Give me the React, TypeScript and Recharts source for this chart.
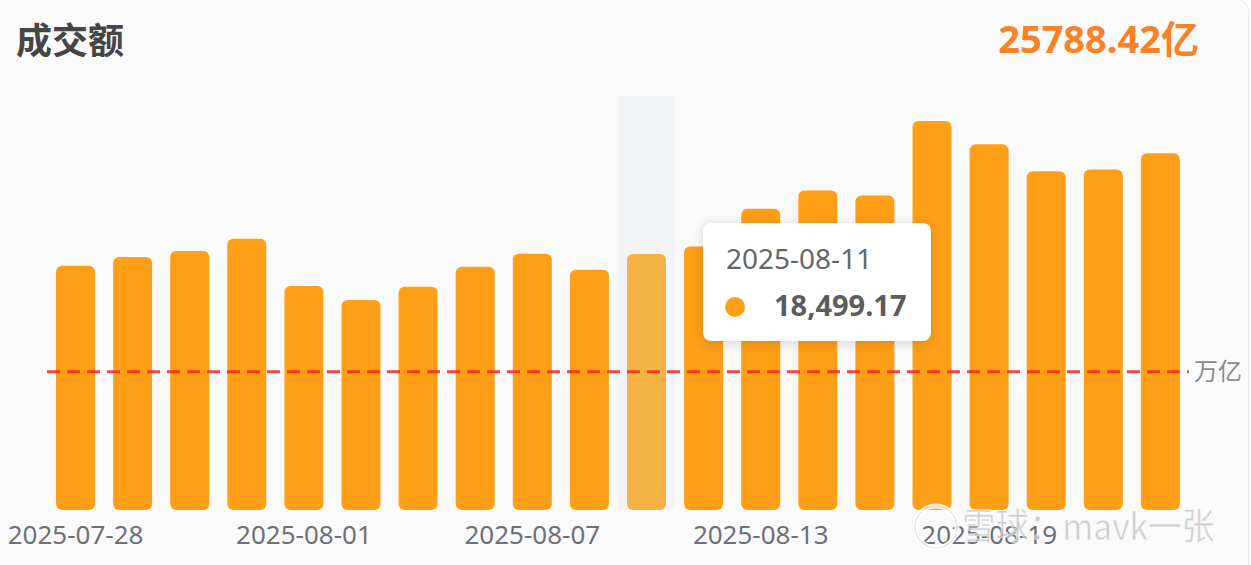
import React from 'react';
import { BarChart, Bar, XAxis, YAxis, Tooltip, ReferenceLine, Cell } from 'recharts';

const dates = [
  '2025-07-28', '2025-07-29', '2025-07-30', '2025-07-31', '2025-08-01',
  '2025-08-04', '2025-08-05', '2025-08-06', '2025-08-07', '2025-08-08',
  '2025-08-11', '2025-08-12', '2025-08-13', '2025-08-14', '2025-08-15',
  '2025-08-18', '2025-08-19', '2025-08-20', '2025-08-21', '2025-08-22',
];
const turnover = [
  17653, 18282, 18715, 19603, 16188,
  15177, 16137, 17581, 18520, 17365,
  18499.17, 19047, 21769, 23090, 22729,
  28123, 26440, 24491, 24606, 25788.42,
];
const yDomain = [0, 30000];
const refValue = 10000;
const refLabel = '万亿';
const title = '成交额';
const latestLabel = '25788.42亿';
const activeIndex = 10;
const watermark = '雪球：mavk一张';

const data = dates.map((d, i) => ({ date: d, value: turnover[i] }));

const BAR = '#fe9f17';
const BAR_ACTIVE = '#f4b144';

function fmt(v: number) {
  return v.toLocaleString('en-US', { minimumFractionDigits: 2, maximumFractionDigits: 2 });
}

function TipContent(props: any) {
  const { active, payload, label } = props;
  if (!active || !payload || !payload.length) return null;
  return (
    <div
      style={{
        position: 'relative',
        width: 228,
        height: 118,
        background: '#ffffff',
        borderRadius: 8,
        boxShadow: '0 2px 12px rgba(0,0,0,0.16)',
        fontFamily: "'Noto Sans', sans-serif",
      }}
    >
      <div style={{ position: 'absolute', left: 23, top: 16, fontSize: 28, lineHeight: 'normal', color: '#666666', whiteSpace: 'nowrap' }}>
        {label}
      </div>
      <div style={{ position: 'absolute', left: 22, top: 74, width: 20, height: 20, borderRadius: 10, background: BAR }} />
      <div style={{ position: 'absolute', left: 71, top: 62, fontSize: 29, fontWeight: 700, lineHeight: 'normal', color: '#5c5c5c', whiteSpace: 'nowrap' }}>
        {fmt(payload[0].value)}
      </div>
    </div>
  );
}

export default function App() {
  return (
    <div style={{ position: 'fixed', left: 0, top: 0, width: 1251, height: 565, background: '#ffffff', overflow: 'hidden' }}>
      <div
        style={{
          position: 'absolute',
          left: -12,
          top: -1,
          width: 1259,
          height: 580,
          background: '#fafafa',
          border: '1px solid #ececec',
          borderRadius: 12,
        }}
      />
      <svg width={1251} height={565} style={{ position: 'absolute', left: 0, top: 0 }}>
        <text x={16} y={54} fontSize={36} fontWeight={700} fill="#464646" fontFamily="'Noto Sans CJK SC', sans-serif">
          {title}
        </text>
        <text x={1199} y={53} textAnchor="end" fontSize={38} fontWeight={700} fill="#f98126" fontFamily="'Noto Sans', 'Noto Sans CJK SC', sans-serif">
          {latestLabel}
        </text>
      </svg>
      <div style={{ position: 'absolute', left: 0, top: 0 }}>
        <BarChart
          width={1248}
          height={565}
          data={data}
          margin={{ top: 95, right: 59, bottom: 15, left: 47 }}
          barSize={39}
        >
          <XAxis
            dataKey="date"
            interval={3}
            axisLine={false}
            tickLine={false}
            height={40}
            tickMargin={10}
            tick={{ fill: '#6e7079', fontSize: 26, fontFamily: "'Noto Sans', sans-serif" }}
          />
          <YAxis hide type="number" domain={yDomain} />
          <Tooltip
            defaultIndex={activeIndex}
            active={true}
            isAnimationActive={false}
            position={{ x: 703, y: 223 }}
            cursor={{ fill: '#f2f3f7' }}
            content={<TipContent />}
            wrapperStyle={{ outline: 'none' }}
          />
          <Bar dataKey="value" radius={[6, 6, 6, 6]} isAnimationActive={false}>
            {data.map((_, i) => (
              <Cell key={i} fill={i === activeIndex ? BAR_ACTIVE : BAR} />
            ))}
          </Bar>
          <ReferenceLine
            y={refValue}
            stroke="#f0281e"
            strokeOpacity={0.85}
            strokeWidth={3}
            strokeDasharray="13 7"
            label={{ value: refLabel, position: 'right', fill: '#8c8c8c', fontSize: 24, fontFamily: "'Noto Sans CJK SC', sans-serif" }}
          />
        </BarChart>
      </div>
      <svg width={1251} height={565} style={{ position: 'absolute', left: 0, top: 0, pointerEvents: 'none' }}>
        <circle cx={936} cy={527} r={21} fill="none" stroke="rgba(255,255,255,0.85)" strokeWidth={5} />
        <circle cx={936} cy={527} r={21} fill="none" stroke="rgba(150,150,150,0.35)" strokeWidth={1} />
        <text
          x={962}
          y={540}
          fontSize={37}
          textLength={253}
          lengthAdjust="spacingAndGlyphs"
          fill="rgba(190,190,190,0.75)"
          stroke="rgba(255,255,255,0.6)"
          strokeWidth={1}
          fontFamily="'Noto Sans CJK SC', sans-serif"
        >
          {watermark}
        </text>
      </svg>
    </div>
  );
}
